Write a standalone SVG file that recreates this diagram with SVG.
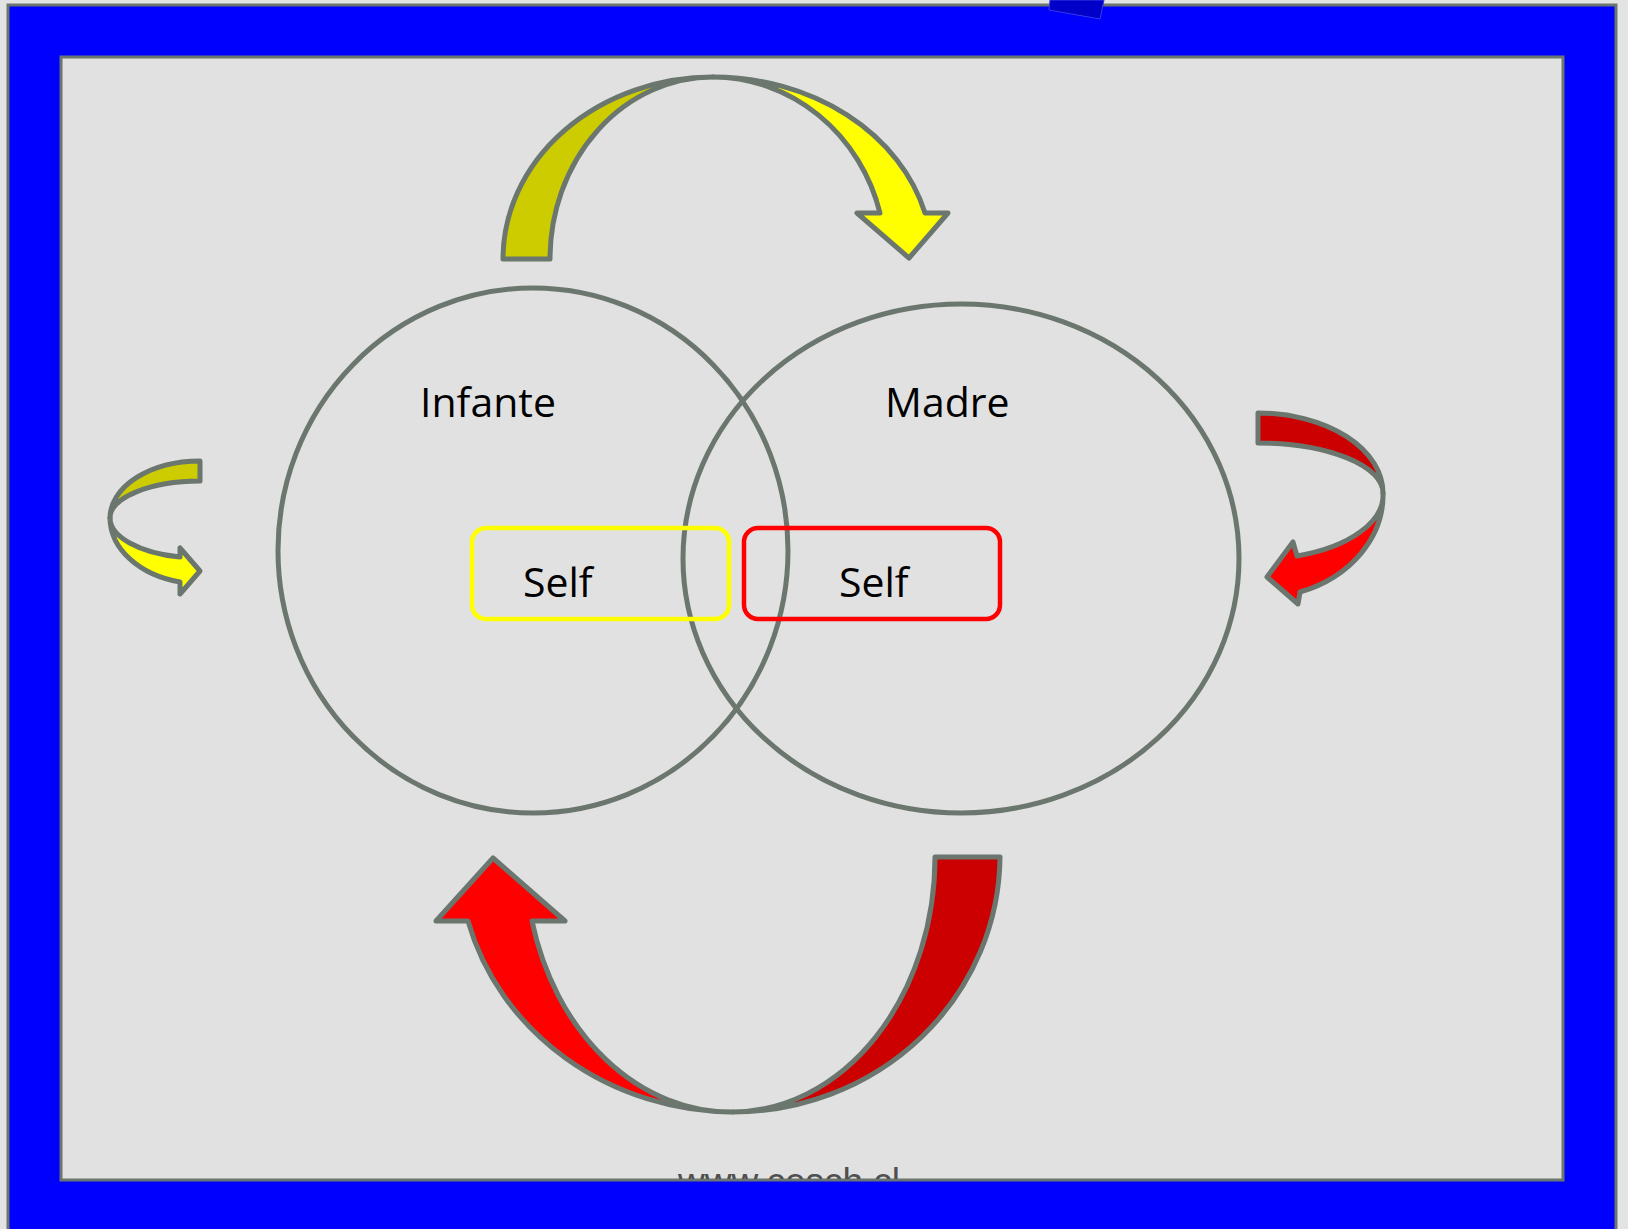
<svg xmlns="http://www.w3.org/2000/svg" width="1628" height="1229" viewBox="0 0 1628 1229">
  <defs>
    <style>
      .ring { fill: none; stroke: #6b776e; stroke-width: 5; }
      .label { font-family: "Open Sans", "Noto Sans", "Liberation Sans", sans-serif; font-size: 41px; fill: #000; }
      .arrow { stroke: #6b776e; stroke-width: 5; stroke-linejoin: round; }
      .dy { fill: #cccc00; }
      .ly { fill: #ffff00; }
      .dr { fill: #cc0000; }
      .lr { fill: #ff0000; }
      .selfbox { fill: none; stroke-width: 4.5; }
    </style>
    <clipPath id="panelClip">
      <rect x="61" y="57" width="1502" height="1122"/>
    </clipPath>
  </defs>

  <!-- background and frame -->
  <g id="frame">
    <rect x="0" y="0" width="1628" height="1229" fill="#e3e3e3"/>
    <rect x="8" y="5" width="1608" height="1300" fill="#0000ff" stroke="#6b776e" stroke-width="3"/>
    <polygon points="1050,0 1104,0 1100,19 1049,10" fill="#0000c8" stroke="#3a3ae8" stroke-width="1"/>
    <rect x="61" y="57" width="1502" height="1123" fill="#e1e1e1" stroke="#6b776e" stroke-width="3"/>
    <text x="678" y="1194" clip-path="url(#panelClip)" font-family="Liberation Sans, Arial, sans-serif" font-size="37" fill="#505050">www.cesch.cl</text>
  </g>

  <!-- nodes -->
  <g id="infante">
    <ellipse class="ring" cx="533" cy="550.5" rx="255" ry="262.5"/>
    <text class="label" x="420" y="417">Infante</text>
  </g>
  <g id="madre">
    <ellipse class="ring" cx="961" cy="558.5" rx="278" ry="254.5"/>
    <text class="label" x="885" y="417">Madre</text>
  </g>
  <g id="self-infante">
    <rect class="selfbox" x="472" y="528" width="257" height="91" rx="14" stroke="#ffff00"/>
    <text class="label" x="523" y="597">Self</text>
  </g>
  <g id="self-madre">
    <rect class="selfbox" x="744" y="528" width="256" height="91" rx="14" stroke="#ff0000"/>
    <text class="label" x="839" y="597">Self</text>
  </g>

  <!-- connectors -->
  <g id="connectors">
    <!-- top yellow curved arrow: Infante -> Madre -->
    <g id="arrow-top">
      <path class="arrow dy" d="M503,259 A210,182 0 0 1 713,77 A163,182 0 0 0 550,259 Z"/>
      <path class="arrow ly" d="M713,77 A219,182 0 0 1 925,213 L948,213 L909,258 L857,213 L880,213 A173,182 0 0 0 713,77 Z"/>
    </g>
    <!-- bottom red curved arrow: Madre -> Infante -->
    <g id="arrow-bottom">
      <path class="arrow dr" d="M1000,857 A267,257 0 0 1 733,1112 A203,255 0 0 0 935,857 Z"/>
      <path class="arrow lr" d="M733,1112 A276,257 0 0 1 468,921 L436,921 L493,858 L565,921 L532,921 A205,255 0 0 0 733,1112 Z"/>
    </g>
    <!-- small left yellow arrow -->
    <g id="arrow-left">
      <path class="arrow dy" d="M200,461 A90,57 0 0 0 110,518 A90,37 0 0 1 200,481 Z"/>
      <path class="arrow ly" d="M110,518 A90,66 0 0 0 180,582 L180,594 L200,571 L180,548 L180,557 A90,40 0 0 1 110,518 Z"/>
    </g>
    <!-- small right red arrow -->
    <g id="arrow-right">
      <path class="arrow dr" d="M1258,413 A125,80 0 0 1 1383,493 A125,50 0 0 0 1258,443 Z"/>
      <path class="arrow lr" d="M1383,493 A125,103 0 0 1 1300,592 L1298,604 L1267,577 L1293,542 L1297,556 A125,64 0 0 0 1383,493 Z"/>
    </g>
  </g>
</svg>
